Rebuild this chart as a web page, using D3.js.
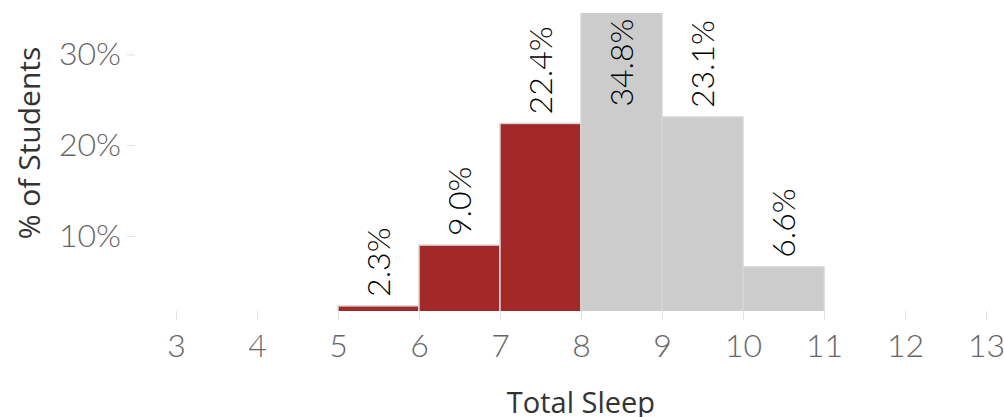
<!DOCTYPE html>
<html>
<head>
<meta charset="utf-8">
<script src="https://cdn.jsdelivr.net/npm/d3@7"></script>
<style>
  html, body { margin: 0; padding: 0; background: #fff; }
  svg { display: block; }
</style>
</head>
<body>
<svg id="chart" width="1004" height="417"></svg>
<script>
// Histogram of total sleep hours (bin start, bin end, share of students in %)
const binStarts = [5, 6, 7, 8, 9, 10];
const binEnds = [6, 7, 8, 9, 10, 11];
const percents = [2.3, 9.0, 22.4, 34.8, 23.1, 6.6];
const xTicks = [3, 4, 5, 6, 7, 8, 9, 10, 11, 12, 13];
const yTicks = [10, 20, 30];
const shortSleepLimit = 8; // bins ending at or below this are highlighted

const svg = d3.select("#chart");
const plotTop = 13, plotBottom = 311;

const x = d3.scaleLinear().domain([3, 13]).range([176, 986]);
const y = d3.scaleLinear().domain([0, 30]).range([326.8, 54.4]);

const bins = binStarts.map((s, i) => ({ start: s, end: binEnds[i], pct: percents[i] }));

// clip region for the plot pane
svg.append("defs").append("clipPath").attr("id", "pane")
  .append("rect").attr("x", 0).attr("y", plotTop)
  .attr("width", 1004).attr("height", plotBottom - plotTop);

// bars
svg.append("g").attr("clip-path", "url(#pane)")
  .selectAll("rect").data(bins).join("rect")
  .attr("x", d => x(d.start))
  .attr("width", d => x(d.end) - x(d.start))
  .attr("y", d => y(d.pct))
  .attr("height", d => y(0) - y(d.pct))
  .attr("fill", d => d.end <= shortSleepLimit ? "#a32828" : "#cccccc")
  .attr("stroke", "#d6d6d6")
  .attr("stroke-width", 1.5);

// value labels, rotated
const labelGap = 9;
const labelFont = 32;
svg.append("g").selectAll("text").data(bins).join("text")
  .attr("transform", d => {
    const cx = x((d.start + d.end) / 2);
    const above = y(d.pct) - labelGap;
    // labels that would run off the top sit inside the bar
    const len = labelFont * 2.8;
    const yy = above - len < plotTop ? plotTop + 4 + len : above;
    return `translate(${cx},${yy}) rotate(-90)`;
  })
  .attr("dy", "0.35em")
  .attr("text-anchor", "start")
  .attr("font-family", "Lato, 'Open Sans', sans-serif")
  .attr("font-weight", 300)
  .attr("font-size", labelFont)
  .attr("fill", "#000")
  .text(d => d.pct.toFixed(1) + "%");

// x axis: ticks and labels only
const xAxis = d3.axisBottom(x).tickValues(xTicks).tickSize(9).tickPadding(14)
  .tickFormat(d3.format("d"));
const gx = svg.append("g").attr("transform", `translate(0,${plotBottom})`).call(xAxis);
gx.select(".domain").remove();
gx.selectAll(".tick line").attr("stroke", "#e2e2e2").attr("stroke-width", 1);
gx.selectAll(".tick text")
  .attr("font-family", "Lato, sans-serif")
  .attr("font-weight", 300)
  .attr("font-size", 32)
  .attr("fill", "#666");

// y axis
const yAxis = d3.axisLeft(y).tickValues(yTicks).tickSize(8).tickPadding(6)
  .tickFormat(d => d + "%");
const gy = svg.append("g").attr("transform", "translate(135,0)").call(yAxis);
gy.select(".domain").remove();
gy.selectAll(".tick line").attr("stroke", "#e2e2e2").attr("stroke-width", 1);
gy.selectAll(".tick text")
  .attr("font-family", "Lato, sans-serif")
  .attr("font-weight", 300)
  .attr("font-size", 32)
  .attr("fill", "#666");

// axis titles
svg.append("text")
  .attr("x", x(8)).attr("y", 413)
  .attr("text-anchor", "middle")
  .attr("font-family", "'Open Sans', 'Noto Sans', sans-serif")
  .attr("font-size", 29)
  .attr("fill", "#333")
  .text("Total Sleep");

svg.append("text")
  .attr("transform", "translate(40,143) rotate(-90)")
  .attr("text-anchor", "middle")
  .attr("font-family", "'Open Sans', 'Noto Sans', sans-serif")
  .attr("font-size", 30)
  .attr("fill", "#333")
  .text("% of Students");
</script>
</body>
</html>
